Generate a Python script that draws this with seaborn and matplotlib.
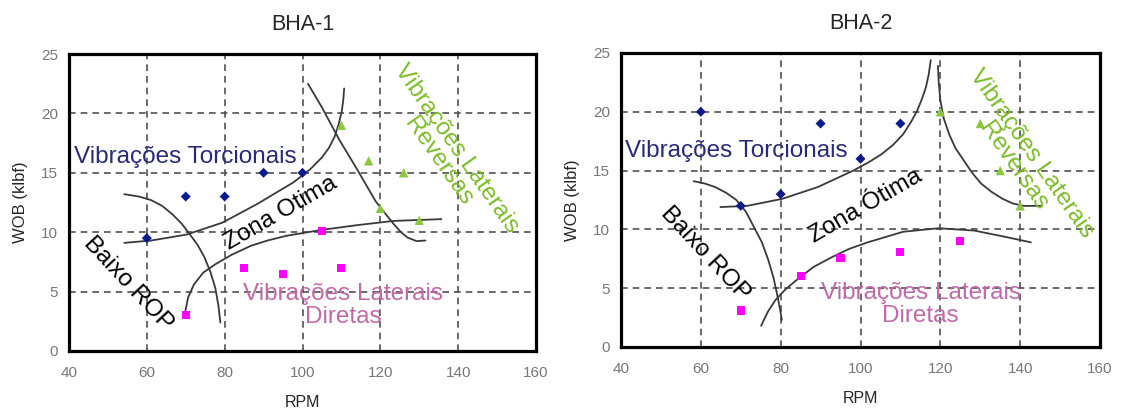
import matplotlib
matplotlib.use("Agg")
import matplotlib.pyplot as plt
import seaborn as sns

# ---- data ----
# BHA-1 measured points
b1_tors_rpm = [60, 70, 80, 90, 100]
b1_tors_wob = [9.5, 13, 13, 15, 15]
b1_rev_rpm = [110, 117, 126, 120, 130]
b1_rev_wob = [19, 16, 15, 12, 11]
b1_dir_rpm = [70, 85, 95, 105, 110]
b1_dir_wob = [3, 7, 6.5, 10.1, 7]

# BHA-1 hand-drawn boundary curves
b1_curve_a_rpm = [54.2, 61.1, 70.2, 79.4, 88.5, 97.7, 102.0, 105.0, 106.8, 108.2, 109.3, 110.1, 110.5, 110.7]
b1_curve_a_wob = [9.1, 9.3, 9.8, 10.8, 12.4, 14.2, 15.3, 16.3, 17.1, 18.0, 19.1, 20.2, 21.2, 22.1]
b1_curve_b_rpm = [54.2, 58.0, 61.1, 64.0, 66.6, 69.0, 71.1, 73.1, 74.8, 76.4, 77.6, 78.4, 78.9]
b1_curve_b_wob = [13.2, 13.0, 12.7, 12.2, 11.5, 10.7, 9.8, 8.9, 7.9, 6.6, 5.3, 3.8, 2.4]
b1_curve_c_rpm = [69.8, 70.6, 72.1, 74.5, 77.6, 81.8, 86.7, 91.0, 95.9, 105.0, 114.2, 123.4, 135.7]
b1_curve_c_wob = [3.2, 4.5, 5.6, 6.6, 7.3, 8.1, 8.85, 9.3, 9.7, 10.2, 10.6, 10.95, 11.1]
b1_curve_d_rpm = [101.4, 105.0, 109.6, 114.2, 118.8, 121.2, 123.4, 125.3, 127.0, 129.3, 131.6]
b1_curve_d_wob = [22.5, 20.5, 17.7, 15.2, 12.6, 11.6, 10.7, 10.0, 9.55, 9.25, 9.3]

# BHA-2 measured points
b2_tors_rpm = [60, 70, 80, 90, 100, 110]
b2_tors_wob = [20, 12, 13, 19, 16, 19]
b2_rev_rpm = [120, 130, 135, 140]
b2_rev_wob = [20, 19, 15, 12]
b2_dir_rpm = [70, 85, 95, 110, 125]
b2_dir_wob = [3.1, 6.0, 7.6, 8.1, 9.0]

# BHA-2 boundary curves
b2_curve_a_rpm = [64.9, 71.6, 80.4, 89.3, 98.2, 102.0, 105.3, 108.2, 110.7, 112.6, 114.2, 115.4, 116.4, 117.1, 117.6]
b2_curve_a_wob = [11.9, 12.0, 12.6, 13.6, 15.0, 15.7, 16.4, 17.2, 18.1, 19.1, 20.1, 21.1, 22.1, 23.2, 24.4]
b2_curve_b_rpm = [58.2, 61.0, 63.6, 66.4, 68.9, 71.3, 73.3, 75.3, 76.9, 78.2, 79.1, 79.8, 80.3]
b2_curve_b_wob = [14.1, 13.9, 13.6, 13.1, 12.5, 11.5, 10.2, 8.9, 7.4, 5.9, 4.5, 3.3, 2.3]
b2_curve_c_rpm = [75.1, 76.8, 78.7, 81.2, 84.0, 88.2, 92.9, 97.2, 101.8, 110.7, 119.6, 128.5, 136.5, 142.7]
b2_curve_c_wob = [1.8, 3.0, 4.0, 4.9, 5.7, 6.8, 7.65, 8.35, 8.9, 9.8, 10.1, 9.9, 9.35, 8.9]
b2_curve_d_rpm = [119.4, 119.6, 120.0, 120.8, 122.2, 123.8, 125.8, 128.0, 130.2, 132.8, 135.6, 138.2, 140.9, 145.3]
b2_curve_d_wob = [23.9, 22.5, 21.0, 19.5, 18.1, 16.9, 15.9, 14.8, 13.9, 13.2, 12.6, 12.2, 12.0, 12.0]

x_ticks = [40, 60, 80, 100, 120, 140, 160]
y_ticks = [0, 5, 10, 15, 20, 25]

sns.set_style("white")
plt.rcParams["font.family"] = ["Liberation Sans", "DejaVu Sans"]

NAVY = "#0b1a8c"
NAVY_TXT = "#2a2a78"
GREEN = "#8dc63f"
GREEN_TXT = "#7dbb2a"
MAGENTA = "#ff00ff"
PINK_TXT = "#c06aa8"
CURVE = "#3a3a3a"

fig = plt.figure(figsize=(11.25, 4.12), dpi=100)
ax1 = fig.add_axes([69 / 1125, 1 - 351 / 412, 467 / 1125, 297 / 412])
ax2 = fig.add_axes([621 / 1125, 1 - 347 / 412, 479 / 1125, 294 / 412])


def draw_panel(ax, title, pts, curves, labels):
    ax.set_xlim(40, 160)
    ax.set_ylim(0, 25)
    ax.set_xticks(x_ticks)
    ax.set_yticks(y_ticks)
    ax.grid(True, color="#505050", linestyle=(0, (4, 3)), linewidth=1.2)
    ax.set_axisbelow(True)
    for sp in ax.spines.values():
        sp.set_visible(True)
        sp.set_color("black")
        sp.set_linewidth(2.3)
    ax.tick_params(axis="both", length=2.5, width=1, color="#888888",
                   labelsize=11, labelcolor="#777777")
    ax.tick_params(axis="x", pad=8)
    ax.tick_params(axis="y", pad=5.5)

    for cx, cy in curves:
        sns.lineplot(x=cx, y=cy, ax=ax, sort=False, estimator=None,
                     color=CURVE, linewidth=1.3)

    (tx, ty), (rx, ry), (dx, dy) = pts
    sns.scatterplot(x=tx, y=ty, ax=ax, marker="D", s=26, color=NAVY,
                    edgecolor="none", zorder=3)
    sns.scatterplot(x=rx, y=ry, ax=ax, marker="^", s=45, color=GREEN,
                    edgecolor="none", zorder=3)
    sns.scatterplot(x=dx, y=dy, ax=ax, marker="s", s=34, color=MAGENTA,
                    edgecolor="none", zorder=3)

    tors, zona, baixo, rev, direct = labels
    fs = 17.5
    ax.text(tors[0], tors[1], "Vibrações Torcionais", color=NAVY_TXT,
            fontsize=fs, ha="left", va="center")
    ax.text(zona[0], zona[1], zona[2], color="black", fontsize=fs,
            rotation=30, ha="center", va="center", rotation_mode="anchor")
    ax.text(baixo[0], baixo[1], "Baixo ROP", color="black", fontsize=fs,
            rotation=-47, ha="center", va="center", rotation_mode="anchor")
    ax.text(rev[0], rev[1], "Vibrações Laterais\nReversas", color=GREEN_TXT,
            fontsize=fs, rotation=-55, ha="center", va="center",
            multialignment="center", rotation_mode="anchor", linespacing=1.0)
    ax.text(direct[0], direct[1], "Vibrações Laterais\nDiretas", color=PINK_TXT,
            fontsize=fs, ha="center", va="center", multialignment="center",
            linespacing=1.05)

    ax.set_title(title, fontsize=15.5, pad=17)
    ax.set_xlabel("RPM", fontsize=11.5, labelpad=11)
    ax.set_ylabel("WOB (klbf)", fontsize=12, labelpad=9)


draw_panel(
    ax1, "BHA-1",
    [(b1_tors_rpm, b1_tors_wob), (b1_rev_rpm, b1_rev_wob), (b1_dir_rpm, b1_dir_wob)],
    [(b1_curve_a_rpm, b1_curve_a_wob), (b1_curve_b_rpm, b1_curve_b_wob),
     (b1_curve_c_rpm, b1_curve_c_wob), (b1_curve_d_rpm, b1_curve_d_wob)],
    [(41.4, 16.3), (94.5, 11.6, "Zona Otima"), (55.3, 5.7), (137.1, 16.5), (110.4, 3.85)],
)
draw_panel(
    ax2, "BHA-2",
    [(b2_tors_rpm, b2_tors_wob), (b2_rev_rpm, b2_rev_wob), (b2_dir_rpm, b2_dir_wob)],
    [(b2_curve_a_rpm, b2_curve_a_wob), (b2_curve_b_rpm, b2_curve_b_wob),
     (b2_curve_c_rpm, b2_curve_c_wob), (b2_curve_d_rpm, b2_curve_d_wob)],
    [(40.9, 16.7), (101.3, 11.95, "Zona Ótima"), (61.1, 7.95), (140.6, 15.9), (115.1, 3.6)],
)

fig.savefig("out.png", dpi=100)
